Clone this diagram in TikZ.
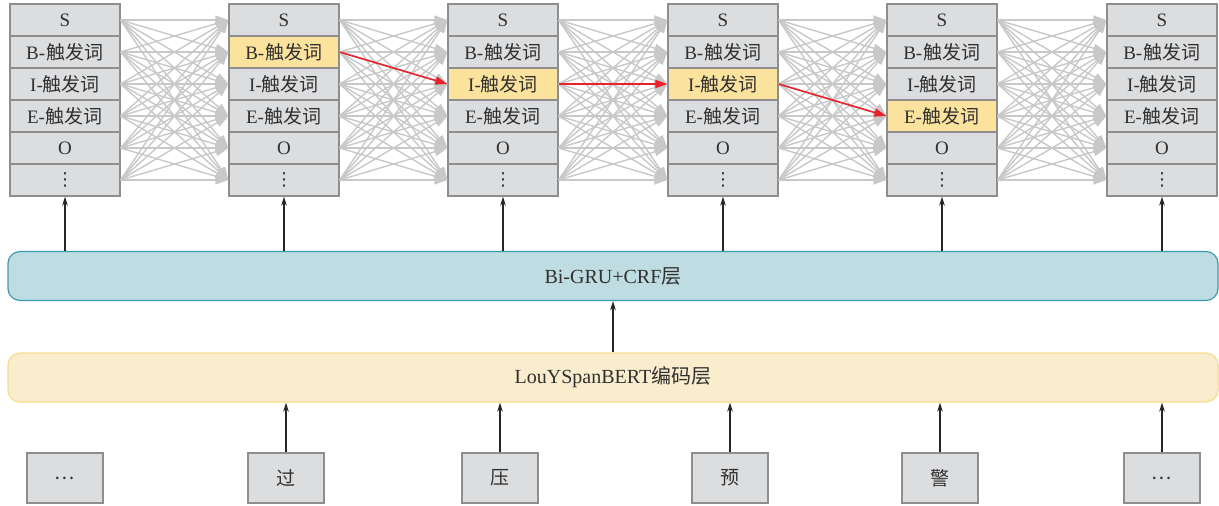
\documentclass[tikz,border=0pt]{standalone}
\usepackage{fontspec}
\setmainfont{Liberation Serif}
\newfontfamily\cjk{Noto Sans CJK SC}
\newfontfamily\sym{DejaVu Sans}
\usetikzlibrary{arrows.meta}
\definecolor{cellfill}{HTML}{DCDDDF}
\definecolor{cellline}{HTML}{8E8E8E}
\definecolor{hl}{HTML}{FBE29D}
\definecolor{grayarrow}{HTML}{C8C8C8}
\definecolor{redarrow}{HTML}{E8222B}
\definecolor{grufill}{HTML}{BEDCE1}
\definecolor{gruline}{HTML}{3D9BAF}
\definecolor{bertfill}{HTML}{FAEDCD}
\definecolor{bertline}{HTML}{F6DD8F}
\definecolor{txt}{HTML}{303030}
\newcommand\celllabel[1]{\ifcase#1\or S\or B-\hspace{1.5pt}{\cjk 触发词}\or I-{\cjk 触发词}\or E-\hspace{1pt}{\cjk 触发词}\or O\or {\sym\fontsize{18}{18}\selectfont ⋮}\fi}
\begin{document}
\begin{tikzpicture}[x=1pt,y=-1pt,
  every node/.style={font=\fontsize{19}{21}\selectfont,text=txt},
  cell/.style={draw=cellline,line width=1.2pt,fill=cellfill,minimum width=110pt,minimum height=32pt,inner sep=0pt},
  hl 2-2/.style={fill=hl}, hl 3-3/.style={fill=hl}, hl 4-3/.style={fill=hl}, hl 5-4/.style={fill=hl},
  grayarr/.style={draw=grayarrow,line width=1.4pt,-{Triangle[length=13pt,width=9pt]}},
  redarr/.style={draw=redarrow,line width=1.6pt,-{Triangle[length=12pt,width=8pt]}},
  blk/.style={draw=black!85,line width=1.6pt,-{Stealth[length=9pt,width=5.5pt]}},
  layer/.style={rounded corners=12pt,line width=1.2pt,minimum width=1210pt,minimum height=49pt,inner sep=0pt,font=\fontsize{20}{22}\selectfont},
  word/.style={draw=cellline,line width=1.2pt,fill=cellfill,minimum width=76pt,minimum height=50pt,inner sep=0pt}
]
\useasboundingbox (0,0) rectangle (1219,506);
% label columns
\foreach \i/\x in {1/65,2/284,3/503,4/723,5/942,6/1162}{
  \foreach \j in {1,...,6}{
    \node[cell,hl \i-\j/.try] (c\i-\j) at (\x,{4+16+32*(\j-1)}) {\celllabel{\j}};
  }
}
% transitions
\foreach \i [evaluate=\i as \k using int(\i+1)] in {1,...,5}{
  \foreach \a in {1,...,6}{
    \foreach \b in {1,...,6}{
      \draw[grayarr] (c\i-\a.east) -- (c\k-\b.west);
    }
  }
}
% best path
\draw[redarr] (c2-2.east) -- (c3-3.west);
\draw[redarr] (c3-3.east) -- (c4-3.west);
\draw[redarr] (c4-3.east) -- (c5-4.west);
% layers
\node[layer,draw=gruline,fill=grufill] (gru) at (613,276) {Bi-GRU+CRF{\cjk 层}};
\node[layer,draw=bertline,fill=bertfill] (bert) at (613,377.5) {LouYSpanBERT{\cjk 编码层}};
\foreach \i in {1,...,6}{
  \draw[blk] (c\i-6.south |- gru.north) -- (c\i-6.south);
}
\draw[blk] (bert.north) -- (gru.south);
% words
\foreach \i/\x/\t in {1/65/…,2/286/过,3/500/压,4/730/预,5/940/警,6/1162/…}{
  \node[word] (w\i) at (\x,478) {\cjk \t};
}
\foreach \i in {2,...,6}{
  \draw[blk] (w\i.north) -- (w\i.north |- bert.south);
}
\end{tikzpicture}
\end{document}
